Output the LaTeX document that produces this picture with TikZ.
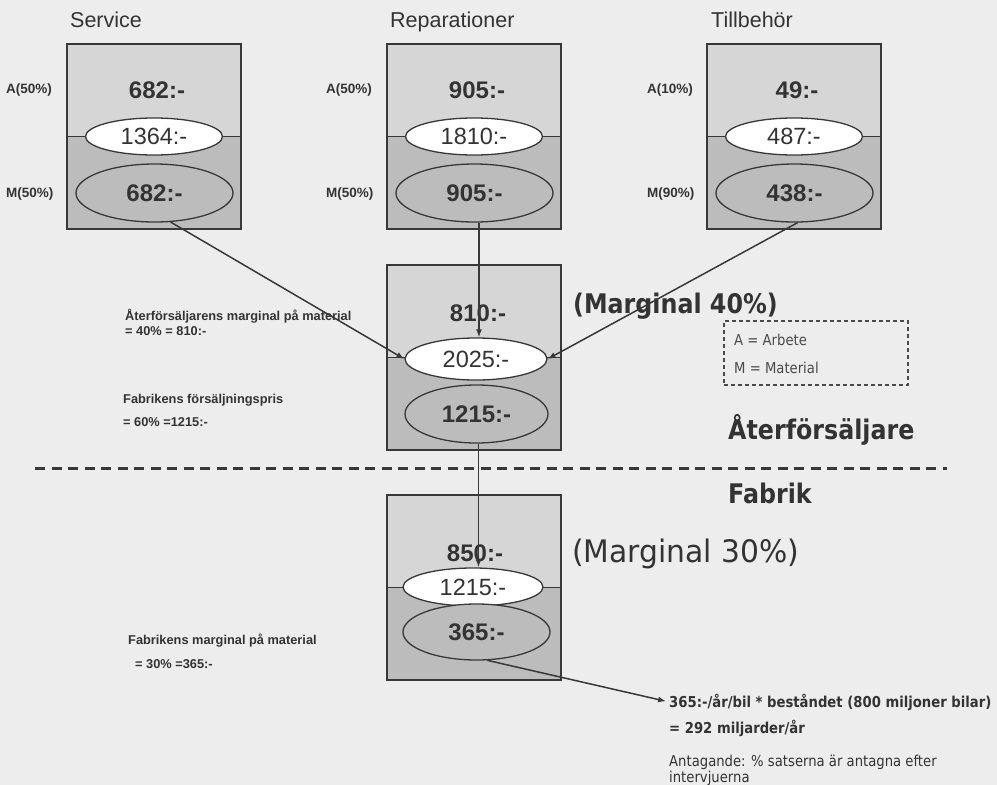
\documentclass[tikz,border=0pt]{standalone}
\usepackage{fontspec}
\setmainfont{Liberation Sans}
\newfontfamily\tah[FakeStretch=0.88]{DejaVu Sans}
\newfontfamily\tahwide[FakeStretch=0.96]{DejaVu Sans}
\usetikzlibrary{arrows.meta,shapes.geometric}

\definecolor{paper}{HTML}{EDEDED}
\definecolor{ink}{HTML}{333333}
\definecolor{softink}{HTML}{4A4A4A}
\definecolor{boxtop}{HTML}{D6D6D6}
\definecolor{boxbot}{HTML}{BCBCBC}
\definecolor{edge}{HTML}{383838}

\newcommand\fsz[1]{\fontsize{#1}{#1}\selectfont}

\begin{document}
\begin{tikzpicture}[x=1pt,y=-1pt,
  costbox/.style={rectangle, draw=edge, line width=1.6pt, fill=boxtop,
    minimum width=174pt, minimum height=185pt, inner sep=0pt,
    path picture={\fill[boxbot] (path picture bounding box.west)
      rectangle (path picture bounding box.south east);}},
  divider/.style={draw=edge, line width=1.3pt},
  sumoval/.style={ellipse, draw=edge, line width=1.3pt, fill=white,
    inner sep=0pt, text=ink, font=\fsz{23.5}},
  matoval/.style={ellipse, draw=edge, line width=1.3pt, fill=boxbot,
    inner sep=0pt, text=ink, font=\bfseries\fsz{24}},
  amount/.style={text=ink, font=\bfseries\fsz{24}, inner sep=0pt},
  head/.style={anchor=base west, text=ink, font=\fsz{21.5}, inner sep=0pt},
  share/.style={anchor=base west, text=ink, font=\bfseries\fsz{13.5}, inner sep=0pt},
  note/.style={anchor=base west, text=ink, font=\bfseries\fsz{12.8}, inner sep=0pt},
  tnote/.style={anchor=base west, text=ink, font=\tah\fsz{15}, inner sep=0pt},
  tbnote/.style={anchor=base west, text=ink, font=\tah\bfseries\fsz{15}, inner sep=0pt},
  level/.style={anchor=base west, text=ink, font=\tah\bfseries\fsz{27}, inner sep=0pt},
  flow/.style={draw=edge, line width=1.5pt, -{Latex[length=8pt,width=6pt]}},
]
\useasboundingbox (0,0) rectangle (997,785);
\fill[paper] (0,0) rectangle (997,785);

% ---------- column headers ----------
\node[head] (hs) at (70,27) {Service};
\node[head] (hr) at (390,27) {Reparationer};
\node[head] (ht) at (711,27) {Tillbehör};

% ---------- Service ----------
\node[costbox] (sbox) at (154,136.5) {};
\draw[divider] (sbox.west) -- (sbox.east);
\node[amount] (sa) at (157,90) {682:-};
\node[sumoval, minimum width=137pt, minimum height=37pt] (sw) at (sbox.center) {1364:-};
\node[matoval, minimum width=157pt, minimum height=58pt] (sm) at (154.5,193) {682:-};
\node[share] (sla) at (6,93) {A(50\%)};
\node[share] (slm) at (6,197) {M(50\%)};

% ---------- Reparationer ----------
\node[costbox] (rbox) at (474,136.5) {};
\draw[divider] (rbox.west) -- (rbox.east);
\node[amount] (ra) at (477,90) {905:-};
\node[sumoval, minimum width=137pt, minimum height=37pt] (rw) at (rbox.center) {1810:-};
\node[matoval, minimum width=157pt, minimum height=58pt] (rm) at (474.5,193) {905:-};
\node[share] (rla) at (326,93) {A(50\%)};
\node[share] (rlm) at (326,197) {M(50\%)};

% ---------- Tillbehör ----------
\node[costbox] (tbox) at (794,136.5) {};
\draw[divider] (tbox.west) -- (tbox.east);
\node[amount] (ta) at (797,90) {49:-};
\node[sumoval, minimum width=137pt, minimum height=37pt] (tw) at (tbox.center) {487:-};
\node[matoval, minimum width=157pt, minimum height=58pt] (tm) at (794.5,193) {438:-};
\node[share] (tla) at (647,93) {A(10\%)};
\node[share] (tlm) at (647,197) {M(90\%)};

% ---------- dealer level ----------
\node[costbox] (mbox) at (474,357.5) {};
\draw[divider] (mbox.west) -- (mbox.east);
\node[amount] (ma) at (478,313) {810:-};
\node[sumoval, minimum width=142pt, minimum height=42pt] (mw) at (476,359) {2025:-};
\node[matoval, minimum width=143pt, minimum height=58pt] (mm) at (476.5,414) {1215:-};

\node[note] (n1) at (125,320) {Återförsäljarens marginal på material};
\node[note] (n2) at (125,335) {= 40\% = 810:-};
\node[note] (n3) at (123,403) {Fabrikens försäljningspris};
\node[note] (n4) at (123,426) {= 60\% =1215:-};

\node[level] (m40) at (573,313) {(Marginal 40\%)};
\node[level] (dealer) at (728,439) {Återförsäljare};

% legend
\node[draw=softink, line width=1.1pt, dash pattern=on 4pt off 3pt,
  minimum width=184pt, minimum height=64pt, inner sep=0pt] (legend) at (816,353) {};
\node[tnote, text=softink] (la) at (734,345) {A = Arbete};
\node[tnote, text=softink] (lm) at (734,373) {M = Material};

% ---------- level separator ----------
\coordinate (sepL) at (35,468);
\coordinate (sepR) at (947,468);
\draw[edge, line width=3pt, dash pattern=on 10pt off 6.5pt] (sepL) -- (sepR);

% ---------- factory level ----------
\node[level] (factory) at (728,503) {Fabrik};
\node[anchor=base west, text=ink, font=\tahwide\fsz{31}, inner sep=0pt] (m30) at (572,562) {(Marginal 30\%)};

\node[costbox] (bbox) at (474,587.5) {};
\draw[divider] (bbox.west) -- (bbox.east);
\node[amount] (ba) at (475,553) {850:-};
\node[sumoval, minimum width=140pt, minimum height=38pt] (bw) at (473,587) {1215:-};
\node[matoval, minimum width=147pt, minimum height=56pt] (bm) at (476.5,632) {365:-};

\node[note] (n5) at (128,644) {Fabrikens marginal på material};
\node[note] (n6) at (135,668) {= 30\% =365:-};

\node[tbnote] (res1) at (669,707) {365:-/år/bil * beståndet (800 miljoner bilar)};
\node[tbnote] (res2) at (669,733) {= 292 miljarder/år};
\node[tnote] (res3) at (669,766) {Antagande: \% satserna är antagna efter};
\node[tnote] (res4) at (669,782) {intervjuerna};

% ---------- connectors ----------
\draw[flow] (sm.-61) -- (mw.west);
\draw[flow] ([xshift=4.5pt]rm.south) -- ([xshift=4.5pt]rm.south |- mw.north);
\draw[flow] (tm.-84) -- (mw.east);
\draw[flow] ([xshift=2pt]mm.south) -- ([xshift=2pt]mm.south |- bw.north);
\draw[flow, shorten >=3pt] (bm.-69) -- (res1.west);
\end{tikzpicture}
\end{document}
